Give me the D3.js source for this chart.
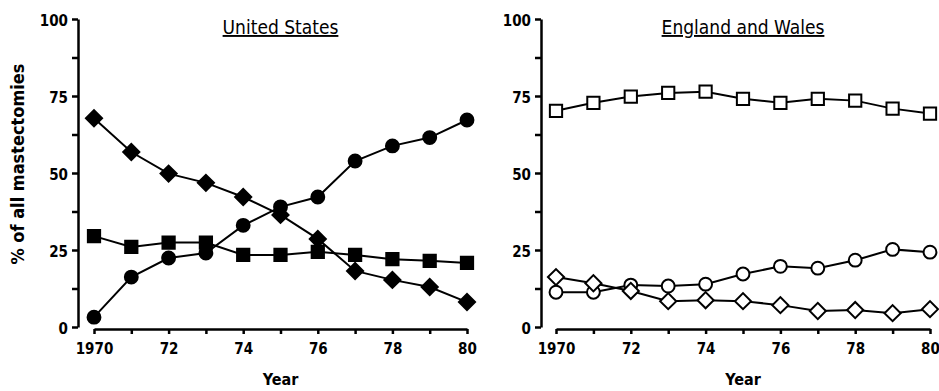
<!DOCTYPE html>
<html lang="en">
<head>
<meta charset="UTF-8">
<title>Mastectomies</title>
<style>
  body { margin: 0; background: #fff; }
  text { font-family: "DejaVu Sans Condensed", "DejaVu Sans", sans-serif; fill: #000; }
  .tick text { font-size: 15px; font-weight: bold; }
  .domain, .tick line { stroke: #000; stroke-width: 2.5px; }
</style>
</head>
<body>
<div id="wrapper"></div>
<script src="https://d3js.org/d3.v7.min.js"></script>
<script>
// years on the x axis
const years = [1970, 1971, 1972, 1973, 1974, 1975, 1976, 1977, 1978, 1979, 1980];
const yTickValues = [0, 25, 50, 75, 100];
const xTickLabels = ["1970", "72", "74", "76", "78", "80"];

// United States (filled markers)
const usCircle = [3.2, 16.2, 22.4, 24, 33, 39, 42.2, 53.9, 58.8, 61.5, 67.2];
const usDiamond = [67.8, 56.8, 49.8, 46.8, 42.2, 36.4, 28.6, 18.2, 15.3, 13, 8.1];
const usSquare = [29.5, 26, 27.4, 27.4, 23.4, 23.4, 24.4, 23.4, 22, 21.5, 20.8];

// England and Wales (open markers)
const ewSquare = [70.2, 72.8, 74.8, 76, 76.4, 74.1, 72.8, 74.1, 73.5, 70.9, 69.3];
const ewCircle = [11.3, 11.3, 13.6, 13.3, 13.9, 17.2, 19.7, 19.1, 21.7, 25.2, 24.3];
const ewDiamond = [16.2, 14.2, 11.7, 8.4, 8.7, 8.4, 7.1, 5.2, 5.5, 4.5, 5.8];

const width = 939, height = 391;
const svg = d3.select("#wrapper").append("svg")
  .attr("width", width).attr("height", height);

const yScale = d3.scaleLinear().domain([0, 100]).range([327, 19]);

const panels = [
  { title: "United States", axisX: 78, x0: 94, x1: 467, open: false,
    series: [
      { values: usDiamond, shape: "diamond" },
      { values: usSquare, shape: "square" },
      { values: usCircle, shape: "circle" }
    ] },
  { title: "England and Wales", axisX: 541, x0: 556, x1: 930, open: true,
    series: [
      { values: ewSquare, shape: "square" },
      { values: ewCircle, shape: "circle" },
      { values: ewDiamond, shape: "diamond" }
    ] }
];

const symbolFor = {
  circle: d3.symbol().type(d3.symbolCircle).size(130),
  square: d3.symbol().type(d3.symbolSquare).size(150),
  diamond: d3.symbol().type(d3.symbolSquare).size(130)
};

panels.forEach(p => {
  const xScale = d3.scaleLinear().domain([1970, 1980]).range([p.x0, p.x1]);

  // y axis: major + minor ticks
  const yAxis = svg.append("g")
    .attr("transform", `translate(${p.axisX},0)`)
    .call(d3.axisLeft(yScale)
      .tickValues([0, 12.5, 25, 37.5, 50, 62.5, 75, 87.5, 100])
      .tickSize(6).tickSizeOuter(0).tickPadding(4)
      .tickFormat(d => yTickValues.includes(d) ? d : ""));
  yAxis.selectAll(".tick text").attr("dy", "0.4em");

  // x axis
  svg.append("g")
    .attr("transform", `translate(0,329)`)
    .call(d3.axisBottom(xScale)
      .tickValues(years)
      .tickSize(5).tickSizeOuter(0).tickPadding(9)
      .tickFormat(d => {
        const i = (d - 1970) / 2;
        return Number.isInteger(i) ? xTickLabels[i] : "";
      }));

  svg.append("text")
    .attr("x", (p.x0 + p.x1) / 2)
    .attr("y", 385)
    .attr("text-anchor", "middle")
    .style("font-size", "16px")
    .style("font-weight", "bold")
    .text("Year");

  svg.append("text")
    .attr("x", (p.x0 + p.x1) / 2)
    .attr("y", 34)
    .attr("text-anchor", "middle")
    .style("font-size", "19px")
    .style("text-decoration", "underline")
    .text(p.title);

  const line = d3.line()
    .x((d, i) => xScale(years[i]))
    .y(d => yScale(d));

  p.series.forEach(s => {
    svg.append("path")
      .attr("d", line(s.values))
      .attr("fill", "none")
      .attr("stroke", "#000")
      .attr("stroke-width", 2);
  });

  p.series.forEach(s => {
    svg.append("g").selectAll("path")
      .data(s.values)
      .join("path")
      .attr("d", symbolFor[s.shape])
      .attr("transform", (d, i) =>
        `translate(${xScale(years[i])},${yScale(d)})` + (s.shape === "diamond" ? " rotate(45)" : ""))
      .attr("fill", p.open ? "#fff" : "#000")
      .attr("stroke", "#000")
      .attr("stroke-width", 2);
  });
});

svg.append("text")
  .attr("transform", "translate(24,164) rotate(-90)")
  .attr("text-anchor", "middle")
  .style("font-size", "18px")
  .style("font-weight", "bold")
  .text("% of all mastectomies");
</script>
</body>
</html>
